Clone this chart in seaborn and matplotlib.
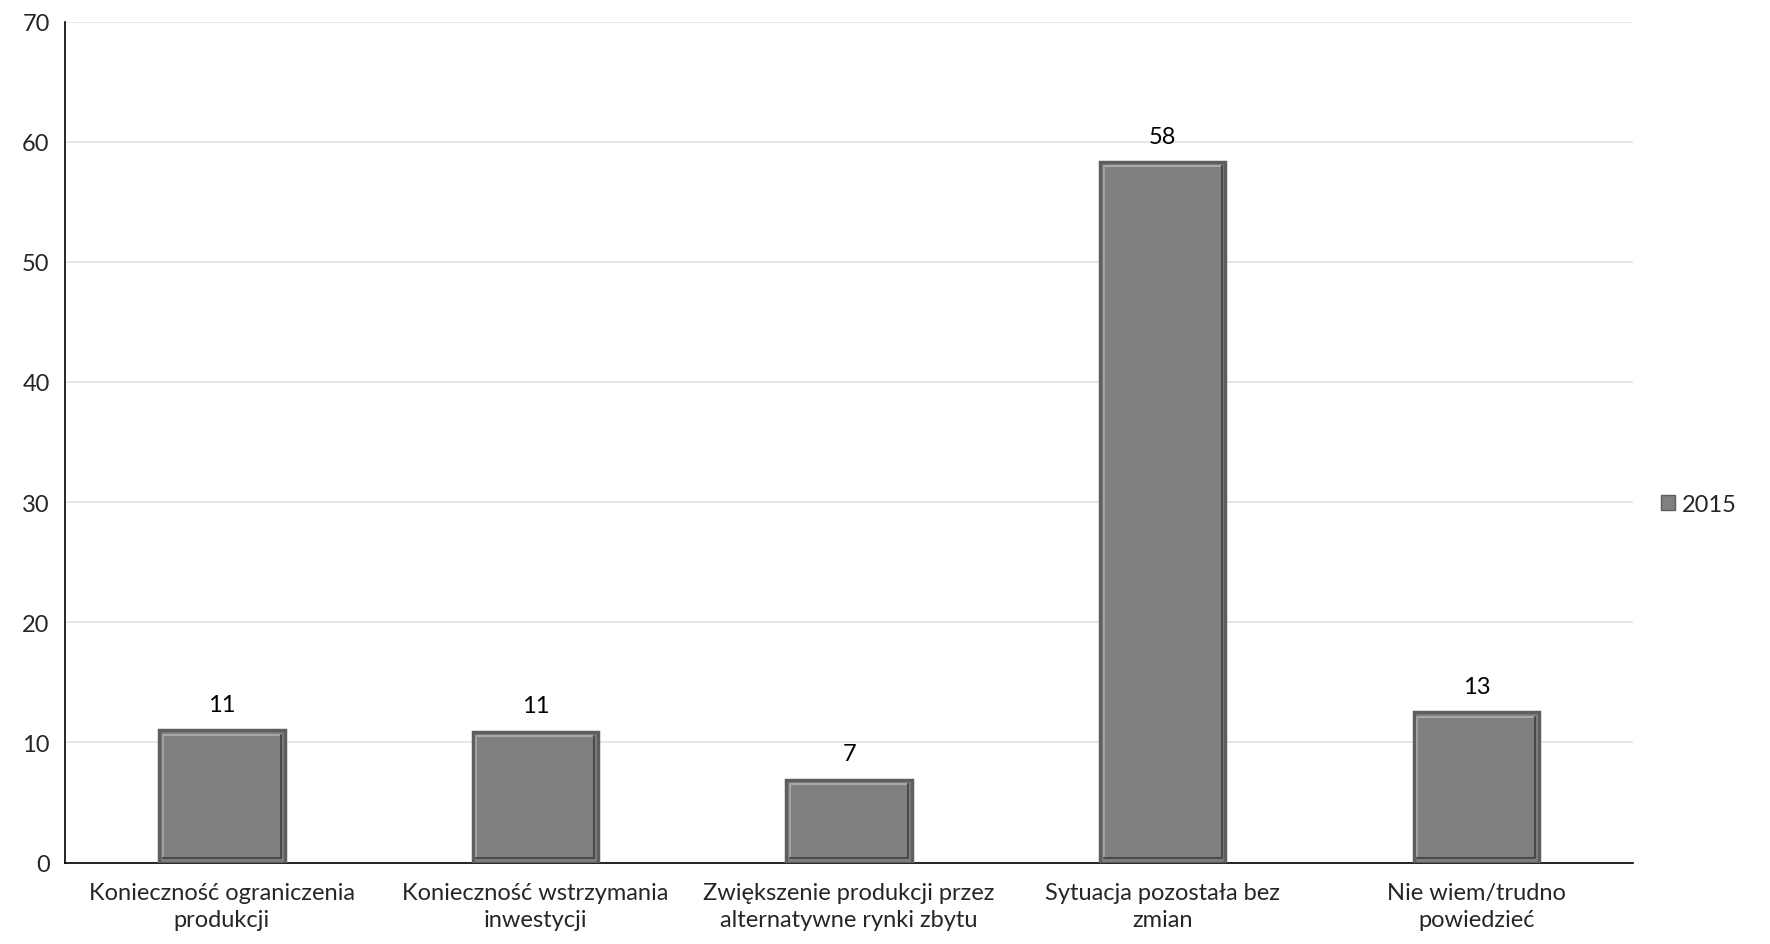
import matplotlib
matplotlib.use("Agg")
import matplotlib.pyplot as plt
import seaborn as sns
import pandas as pd
import numpy as np
from matplotlib.ticker import FixedLocator

categories = [
    "Konieczność ograniczenia\nprodukcji",
    "Konieczność wstrzymania\ninwestycji",
    "Zwiększenie produkcji przez\nalternatywne rynki zbytu",
    "Sytuacja pozostała bez\nzmian",
    "Nie wiem/trudno\npowiedzieć",
]
values = [11.0, 10.9, 6.9, 58.3, 12.5]
labels = ["11", "11", "7", "58", "13"]
series_name = "2015"
yticks = [0, 10, 20, 30, 40, 50, 60, 70]

df = pd.DataFrame({"cat": categories, "val": values, "series": series_name})

sns.set_theme(style="white")
plt.rcParams["font.family"] = ["Lato", "DejaVu Sans"]
FS = 17

fig = plt.figure(figsize=(17.7, 9.45), dpi=100)
ax = fig.add_axes([0.0367, 0.0862, 0.886, 0.8899])

sns.barplot(data=df, x="cat", y="val", hue="series", palette=["#808080"],
            width=0.4, ax=ax, edgecolor="#5e5e5e", linewidth=2.5, zorder=3)

# bevel highlight inside bars
for p in ax.patches:
    x0, y0 = p.get_x(), p.get_y()
    w, h = p.get_width(), p.get_height()
    if h <= 0:
        continue
    ax.plot([x0 + 0.012, x0 + w - 0.012], [y0 + h - 0.35, y0 + h - 0.35],
            color="#a8a8a8", lw=1.5, zorder=4)
    ax.plot([x0 + 0.012, x0 + 0.012], [y0 + 0.35, y0 + h - 0.35],
            color="#a0a0a0", lw=1.5, zorder=4)
    ax.plot([x0 + w - 0.012, x0 + w - 0.012], [y0 + 0.35, y0 + h - 0.35],
            color="#4a4a4a", lw=1.5, zorder=4)
    ax.plot([x0 + 0.012, x0 + w - 0.012], [y0 + 0.35, y0 + 0.35],
            color="#4a4a4a", lw=1.5, zorder=4)

for i, (v, lab) in enumerate(zip(values, labels)):
    ax.annotate(lab, (i, v), xytext=(0, 11), textcoords="offset points",
                ha="center", va="bottom", fontsize=FS, color="black")

ax.set_xlim(-0.5, len(categories) - 0.5)
ax.set_ylim(0, 70)
ax.set_yticks(yticks)
ax.set_yticklabels([str(t) for t in yticks], fontsize=FS)
ax.tick_params(axis="x", which="major", length=0, labelsize=FS, pad=14)
for t in ax.get_xticklabels():
    t.set_linespacing(1.35)
ax.xaxis.set_minor_locator(FixedLocator(np.arange(0.5, len(categories) - 0.5 + 1, 1.0)))
ax.tick_params(axis="x", which="minor", direction="in", length=8, width=1.2, color="black")
ax.tick_params(axis="y", which="major", direction="out", length=6, width=1.2, color="black", pad=5)
ax.set_xlabel("")
ax.set_ylabel("")

ax.yaxis.grid(True, color="#e3e3e3", lw=1.2, zorder=0)
ax.set_axisbelow(True)
for s in ["top", "right"]:
    ax.spines[s].set_visible(False)
for s in ["left", "bottom"]:
    ax.spines[s].set_color("black")
    ax.spines[s].set_linewidth(1.2)

leg = ax.legend(loc="center left", bbox_to_anchor=(1.004, 0.426), frameon=False,
                fontsize=FS, handlelength=0.6, handleheight=0.6, handletextpad=0.3)
for h in leg.legend_handles:
    h.set_linewidth(1)

fig.savefig("out.png", dpi=100)
